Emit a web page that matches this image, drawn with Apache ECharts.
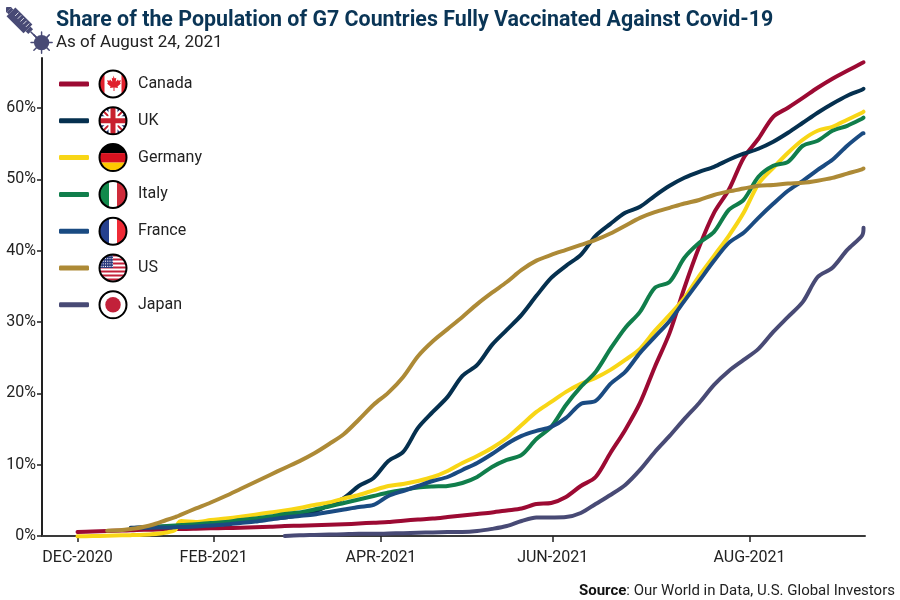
<!DOCTYPE html>
<html>
<head>
<meta charset="utf-8">
<title>G7 vaccination</title>
<script src="https://cdn.jsdelivr.net/npm/echarts@6/dist/echarts.min.js"></script>
<style>
  html, body { margin: 0; padding: 0; background: #fff; }
  #chart { width: 900px; height: 600px; }
</style>
</head>
<body>
<div id="chart"></div>
<script>
// x values are days on the chart's own scale, counted from the DEC-2020 tick
const days = [0, 5, 10, 15, 18, 20, 25, 30, 33, 34, 35,
  40, 45, 50, 55, 60, 65, 70, 75, 80, 85, 90, 95, 100, 105, 110, 115, 120, 125, 130, 135, 140,
  145, 150, 155, 160, 165, 170, 175, 180, 185, 190, 195, 200, 205, 210, 215, 220, 225, 230,
  235, 240, 245, 250, 255, 260, 265, 265.5];

const canada = [0.56, 0.63, 0.7, 0.77, 0.8, 0.84, 0.88, 0.94, 0.98, 0.98, 0.98,
  1.02, 1.08, 1.12, 1.16, 1.23, 1.3, 1.4, 1.44, 1.5, 1.57, 1.64, 1.75, 1.87, 1.96, 2.15, 2.31, 2.45, 2.66, 2.88, 3.09, 3.3,
  3.58, 3.86, 4.49, 4.63, 5.47, 7.01, 8.27, 11.64, 14.87, 18.65, 23.7, 28.47, 34.8, 40.53, 45.3, 48.53, 53, 55.68,
  58.76, 60.03, 61.4, 62.83, 64.1, 65.2, 66.3, 66.4];
const uk = [null, null, null, null, 1.15, 1.19, 1.26, 1.33, 1.4, 1.4, 1.44,
  1.54, 1.68, 1.89, 2.03, 2.24, 2.45, 2.59, 2.95, 3.37, 4.35, 5.33, 7.01, 8.13, 10.52, 11.78, 15.15, 17.39, 19.5, 22.44, 23.98, 26.79,
  28.89, 31, 33.66, 36.18, 37.87, 39.41, 42.08, 43.76, 45.3, 46.14, 47.69, 49.09, 50.21, 51.05, 51.75, 52.74, 53.58, 54.28,
  55.26, 56.52, 57.92, 59.33, 60.59, 61.71, 62.55, 62.69];
const germany = [-0.05, 0, 0.03, 0.1, 0.12, 0.14, 0.25, 0.5, 0.84, 1.82, 2.1,
  1.96, 2.24, 2.45, 2.7, 2.99, 3.3, 3.57, 3.93, 4.35, 4.7, 5.26, 5.75, 6.4, 7, 7.29, 7.71, 8.27, 9.12, 10.24, 11.22, 12.34,
  13.74, 15.57, 17.39, 18.79, 20.2, 21.32, 22.16, 23.28, 24.68, 26.23, 28.75, 31, 33.38, 36.47, 39.27, 42.08, 45.3, 49.37,
  51.61, 53.72, 55.54, 56.8, 57.36, 58.35, 59.33, 59.47];
const italy = [null, null, null, null, null, null, 1.26, 1.4, 1.47, 1.5, 1.54,
  1.64, 1.82, 1.96, 2.24, 2.45, 2.73, 3.09, 3.3, 3.72, 4.14, 4.63, 5.12, 5.61, 6.1, 6.45, 6.8, 6.94, 7.01, 7.43, 8.27, 9.68,
  10.66, 11.36, 13.6, 15.29, 18.37, 20.9, 23, 26.23, 29.17, 31.42, 34.78, 35.62, 38.99, 41.09, 42.64, 45.72, 47.12, 50.35,
  51.89, 52.45, 54.7, 55.4, 56.8, 57.5, 58.49, 58.63];
const france = [null, null, null, null, 1.1, 1.12, 1.16, 1.19, 1.23, 1.26, 1.26,
  1.33, 1.47, 1.61, 1.82, 2.03, 2.31, 2.59, 2.8, 3.02, 3.37, 3.72, 4.07, 4.35, 5.61, 6.31, 7.01, 7.71, 8.27, 9.26, 10.24, 11.5,
  12.9, 14.03, 14.73, 15.29, 16.55, 18.51, 18.93, 21.32, 23, 25.67, 27.91, 30.15, 32.96, 35.76, 38.57, 41.09, 42.5, 44.6,
  46.56, 48.39, 49.79, 51.33, 52.73, 54.7, 56.38, 56.45];
const us = [null, null, 0.75, 0.84, 0.98, 1.08, 1.54, 2.24, 2.66, 2.8, 3,
  3.86, 4.7, 5.61, 6.59, 7.57, 8.56, 9.54, 10.5, 11.6, 12.9, 14.3, 16.3, 18.4, 20.1, 22.3, 25.2, 27.3, 29, 30.7, 32.5, 34.1,
  35.6, 37.3, 38.6, 39.4, 40.1, 40.8, 41.5, 42.4, 43.5, 44.6, 45.4, 46, 46.6, 47.1, 47.8, 48.3, 48.7, 49.1,
  49.2, 49.4, 49.5, 49.8, 50.2, 50.8, 51.4, 51.5];
const japan = [null, null, null, null, null, null, null, null, null, null, null,
  null, null, null, null, null, null, 0, 0.1, 0.15, 0.2, 0.25, 0.3, 0.3, 0.35, 0.4, 0.45, 0.5, 0.55, 0.56, 0.7, 1,
  1.4, 2.1, 2.59, 2.6, 2.66, 3.23, 4.49, 5.75, 7.15, 9.26, 11.78, 14.03, 16.41, 18.65, 21.18, 23.14, 24.68, 26.23,
  28.61, 30.72, 32.82, 36.3, 37.6, 40.1, 42.1, 43.2];

const names = ['Canada', 'UK', 'Germany', 'Italy', 'France', 'US', 'Japan'];
const values = [canada, uk, germany, italy, france, us, japan];
const colors = ['#9c0a33', '#05304f', '#f8d616', '#107e4b', '#1a4b82', '#ad8a36', '#484a75'];

const tickDays = [0, 46, 102.5, 160.5, 227];
const tickLabels = ['DEC-2020', 'FEB-2021', 'APR-2021', 'JUN-2021', 'AUG-2021'];
const yTicks = [0, 10, 20, 30, 40, 50, 60];

const labelFont = 'Roboto, sans-serif';

// round flag badges for the legend, drawn as small svg pictures
function badge(inner) {
    const svg = '<svg xmlns="http://www.w3.org/2000/svg" width="60" height="60" viewBox="0 0 60 60">' +
        '<defs><clipPath id="c"><circle cx="30" cy="30" r="27"/></clipPath></defs>' +
        '<g clip-path="url(#c)"><rect width="60" height="60" fill="#fff"/>' + inner + '</g>' +
        '<circle cx="30" cy="30" r="27" fill="none" stroke="#000" stroke-width="4"/></svg>';
    return 'data:image/svg+xml;charset=utf-8,' + encodeURIComponent(svg);
}

let stars = '';
for (let r = 0; r < 5; r++) {
    for (let c = 0; c < 6; c++) {
        stars += '<circle cx="' + (6 + c * 4.5) + '" cy="' + (6 + r * 5.2) + '" r="1.2" fill="#fff"/>';
    }
}
let stripes = '';
for (let i = 0; i < 7; i++) {
    stripes += '<rect y="' + (3 + i * 8) + '" width="60" height="4" fill="#c4203a"/>';
}

const flags = [
    badge('<rect width="13" height="60" fill="#e0202c"/><rect x="47" width="13" height="60" fill="#e0202c"/>' +
        '<path d="M30 13l3.5 6 3-1.5-1 8 4.5-4.5 1 2.5 5-1-2 5.500 2 1-7 6 1 3-7-1v7h-2v-7l-7 1 1-3-7-6 2-1-2-5.500 5 1 1-2.500 4.500 4.500-1-8 3 1.500z" fill="#e0202c"/>'),
    badge('<rect width="60" height="60" fill="#1c2f6f"/>' +
        '<path d="M0 0L60 60M60 0L0 60" stroke="#fff" stroke-width="12"/>' +
        '<path d="M0 0L60 60M60 0L0 60" stroke="#c8202f" stroke-width="4"/>' +
        '<path d="M30 0V60M0 30H60" stroke="#fff" stroke-width="18"/>' +
        '<path d="M30 0V60M0 30H60" stroke="#c8202f" stroke-width="10"/>'),
    badge('<rect width="60" height="21" fill="#000"/><rect y="21" width="60" height="19" fill="#d8121f"/><rect y="40" width="60" height="20" fill="#fdc800"/>'),
    badge('<rect width="22" height="60" fill="#128a4c"/><rect x="38" width="22" height="60" fill="#cf2b3a"/>'),
    badge('<rect width="22" height="60" fill="#25408f"/><rect x="38" width="22" height="60" fill="#ef2b36"/>'),
    badge(stripes + '<rect width="30" height="30" fill="#2c3b7d"/>' + stars),
    badge('<circle cx="30" cy="30" r="15.500" fill="#c2213a"/>')
];

const syringe = 'data:image/svg+xml;charset=utf-8,' + encodeURIComponent(
    '<svg xmlns="http://www.w3.org/2000/svg" width="104" height="104" viewBox="0 0 52 52">' +
    '<g stroke="#484a75" stroke-width="1.500" stroke-linecap="round">' +
    '<path d="M37 26V48M26 37H48M29 29L45 45M45 29L29 45"/></g>' +
    '<circle cx="37" cy="37" r="8" fill="#484a75"/>' +
    '<g fill="#484a75" transform="rotate(45 20 20)">' +
    '<rect x="-4" y="16.500" width="3" height="7"/><rect x="-8" y="14" width="4" height="12"/>' +
    '<rect x="-1" y="13.500" width="25" height="13"/><rect x="24" y="16.500" width="4" height="7"/>' +
    '<rect x="28" y="19.200" width="10" height="1.600"/></g>' +
    '<g stroke="#fff" stroke-width="0.800" transform="rotate(45 20 20)">' +
    '<path d="M5 15V20M9 15V20M13 15V20M17 15V20M21 15V20"/></g></svg>');

// pair the shared day grid with a series and drop the days before it starts
function toPoints(series) {
    return days.map((d, i) => [d, series[i]]).filter(p => p[1] !== null);
}

const chart = echarts.init(document.getElementById('chart'));

const rich = { s: { width: 4 }, n: { fontFamily: labelFont, fontSize: 16, color: '#222', padding: [0, 0, 0, 10] } };
flags.forEach((src, i) => {
    rich['f' + i] = { width: 30, height: 30, backgroundColor: { image: src } };
});

const option = {
    animation: false,
    backgroundColor: '#fff',
    color: colors,
    title: [{
        text: 'Share of the Population of G7 Countries Fully Vaccinated Against Covid-19',
        subtext: 'As of August 24, 2021',
        left: 51,
        top: 5,
        itemGap: 3,
        textStyle: { fontFamily: 'Roboto, sans-serif', fontSize: 21.4, fontWeight: 'bold', color: '#0a3556' },
        subtextStyle: { fontFamily: labelFont, fontSize: 17, color: '#222' }
    }, {
        text: '{b|Source}: Our World in Data, U.S. Global Investors',
        right: 0,
        top: 579,
        textStyle: {
            fontFamily: 'Roboto, sans-serif', fontSize: 15, fontWeight: 'normal', color: '#222',
            rich: { b: { fontFamily: 'Roboto, sans-serif', fontSize: 15, fontWeight: 'bold', color: '#111' } }
        }
    }],
    legend: {
        orient: 'vertical',
        left: 54,
        top: 64,
        icon: 'roundRect',
        itemWidth: 30,
        itemHeight: 5,
        itemGap: 6.8,
        data: names,
        formatter: name => '{s|}{f' + names.indexOf(name) + '|}{n|' + name + '}',
        textStyle: { rich: rich }
    },
    grid: { left: 42, right: 35, top: 58, bottom: 64 },
    xAxis: {
        type: 'value',
        min: -12,
        max: 266,
        splitLine: { show: false },
        axisLine: { lineStyle: { color: '#3a3a3a', width: 2 } },
        axisTick: { show: true, customValues: tickDays, length: 6, lineStyle: { color: '#222', width: 1.5 } },
        axisLabel: {
            customValues: tickDays,
            formatter: v => tickLabels[tickDays.indexOf(v)],
            fontFamily: labelFont,
            fontSize: 16,
            color: '#222',
            margin: 14
        }
    },
    yAxis: {
        type: 'value',
        min: 0,
        max: 67,
        splitLine: { show: false },
        axisLine: { show: true, onZero: false, lineStyle: { color: '#222', width: 2 } },
        axisTick: { show: true, customValues: yTicks, length: 5, lineStyle: { color: '#222', width: 1.5 } },
        axisLabel: {
            customValues: yTicks,
            formatter: v => v + '%',
            fontFamily: labelFont,
            fontSize: 16,
            color: '#222',
            margin: 6
        }
    },
    graphic: [{
        type: 'image',
        left: 6,
        top: 7,
        style: { image: syringe, width: 50, height: 50 }
    }],
    series: names.map((name, i) => ({
        name: name,
        type: 'line',
        data: toPoints(values[i]),
        symbol: 'none',
        smooth: 0.3,
        clip: false,
        lineStyle: { width: 4, cap: 'round', join: 'round', color: colors[i] },
        itemStyle: { color: colors[i] }
    }))
};

chart.setOption(option);
</script>
</body>
</html>
